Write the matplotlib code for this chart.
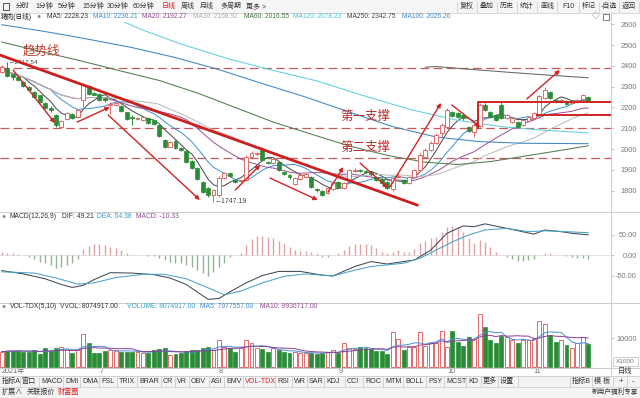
import matplotlib
matplotlib.use("Agg")
import matplotlib.pyplot as plt
import matplotlib.patches as mpatches
from matplotlib.lines import Line2D
import pandas as pd

plt.rcParams["font.family"] = ["Liberation Sans", "Noto Sans CJK SC", "DejaVu Sans"]

W, H = 640, 398

# daily candles, Jun .. Nov 2021
opens = [2371, 2390, 2362, 2346, 2322, 2298, 2275, 2258, 2222, 2196,
         2164, 2106, 2145, 2168, 2154, 2236, 2303, 2270, 2265, 2245,
         2214, 2212, 2206, 2178, 2152, 2145, 2140, 2150, 2138, 2115,
         2044, 2012, 2038, 2006, 1990, 1942, 1910, 1842, 1812, 1780,
         1780, 1861, 1885, 1852, 1846, 1851, 1962, 1975, 1996, 1938,
         1933, 1938, 1890, 1875, 1832, 1856, 1866, 1866, 1810, 1797,
         1790, 1808, 1842, 1815, 1851, 1895, 1898, 1894, 1890, 1866,
         1858, 1842, 1808, 1866, 1852, 1838, 1866, 1900, 1962, 1996,
         2030, 2078, 2106, 2178, 2174, 2164, 2106, 2082, 2110, 2212,
         2178, 2164, 2212, 2150, 2130, 2130, 2116, 2135, 2150, 2164,
         2246, 2275, 2236, 2228, 2230, 2220, 2228, 2240, 2250]
closes = [2395, 2352, 2345, 2330, 2303, 2284, 2250, 2226, 2198, 2188,
          2116, 2135, 2173, 2150, 2188, 2308, 2265, 2262, 2236, 2238,
          2218, 2222, 2183, 2145, 2150, 2150, 2154, 2125, 2120, 2063,
          2010, 2034, 2005, 1996, 1938, 1909, 1856, 1794, 1780, 1803,
          1861, 1885, 1870, 1842, 1851, 1962, 1980, 1980, 1948, 1933,
          1952, 1900, 1880, 1864, 1861, 1876, 1880, 1818, 1802, 1780,
          1812, 1837, 1818, 1837, 1900, 1900, 1895, 1890, 1878, 1852,
          1836, 1814, 1860, 1872, 1838, 1866, 1900, 1972, 1996, 2030,
          2068, 2116, 2188, 2159, 2154, 2150, 2087, 2116, 2212, 2188,
          2154, 2140, 2150, 2164, 2150, 2106, 2140, 2154, 2174, 2255,
          2284, 2246, 2230, 2238, 2218, 2232, 2234, 2258, 2230]
highs = [2402, 2417.54, 2368, 2350, 2328, 2304, 2280, 2262, 2226, 2206,
         2170, 2138, 2178, 2172, 2195, 2316, 2310, 2276, 2270, 2252,
         2225, 2228, 2210, 2180, 2164, 2156, 2158, 2155, 2142, 2120,
         2050, 2040, 2042, 2012, 1995, 1946, 1914, 1848, 1818, 1808,
         1870, 1892, 1892, 1858, 1858, 1972, 1990, 1986, 2008, 1945,
         1956, 1945, 1895, 1878, 1866, 1880, 1885, 1870, 1815, 1802,
         1818, 1842, 1848, 1842, 1905, 1908, 1905, 1900, 1895, 1872,
         1862, 1846, 1866, 1880, 1858, 1870, 1906, 1980, 2005, 2040,
         2075, 2125, 2196, 2184, 2180, 2174, 2110, 2125, 2222, 2222,
         2182, 2168, 2226, 2168, 2155, 2135, 2145, 2160, 2180, 2262,
         2300, 2280, 2242, 2242, 2234, 2238, 2240, 2266, 2256]
lows = [2366, 2345, 2332, 2325, 2298, 2278, 2246, 2220, 2192, 2180,
        2108, 2100, 2140, 2146, 2150, 2200, 2258, 2258, 2230, 2228,
        2168, 2205, 2178, 2140, 2116, 2138, 2136, 2120, 2116, 2058,
        2005, 2008, 2000, 1990, 1932, 1904, 1850, 1788, 1772, 1747.19,
        1770, 1856, 1865, 1836, 1840, 1846, 1955, 1968, 1942, 1928,
        1928, 1895, 1875, 1858, 1826, 1852, 1860, 1812, 1796, 1775,
        1785, 1804, 1814, 1810, 1846, 1890, 1888, 1884, 1872, 1846,
        1830, 1808, 1800, 1860, 1832, 1834, 1862, 1896, 1958, 1990,
        2025, 2060, 2100, 2154, 2150, 2140, 2080, 2058, 2105, 2184,
        2150, 2135, 2145, 2145, 2125, 2100, 2110, 2130, 2145, 2160,
        2240, 2240, 2224, 2222, 2212, 2215, 2222, 2236, 2226]

# volume, units of 1000
volumes = [5367, 5706, 5706, 5706, 5367, 5367, 5933, 4577, 6497, 5706,
           6497, 7062, 5933, 4802, 5933, 11357, 8418, 5028, 5028, 5706,
           5933, 5933, 5367, 5367, 5367, 5367, 4802, 5028, 5933, 6158,
           6497, 4238, 4577, 5028, 5706, 5933, 5933, 6497, 7062, 5933,
           9323, 7062, 6497, 5367, 6497, 9323, 8418, 6497, 6158, 5367,
           6497, 5933, 5367, 5028, 5367, 4802, 4802, 5028, 4577, 5028,
           5367, 5933, 5028, 8192, 6723, 6158, 7062, 6497, 6158, 5706,
           5706, 4577, 12147, 9549, 5933, 7062, 7062, 12147, 7289, 8418,
           8418, 12487, 7062, 12374, 8757, 7289, 10453, 9549, 18137, 13617,
           9323, 8192, 10679, 10227, 9323, 8192, 9323, 9323, 9549, 15764,
           14747, 11018, 8757, 9323, 7628, 6497, 8192, 10227, 8075]

macd_hist = [6.5, 5.7, 4, 2.4, 0.5, -5.7, -10.6, -16, -18.7, -24.4,
             -32.5, -28.5, -24.4, -20.3, -10.6, 13.8, 22, 26.8, 26.8, 24.4,
             20.3, 16.3, 12.2, 5.7, 0.8, -0.5, -0.8, -1.2, -2.4, -8.1,
             -12.2, -16.3, -20.3, -20.3, -24.4, -28.5, -36.6, -44.7, -51.2, -40.6,
             -28.5, -20.3, -5.7, 0.5, 5.7, 24.4, 38.2, 46.3, 46.3, 44.7,
             40.6, 35, 28.5, 20.3, 12.2, 10.6, 9.8, 8.1, 5.7, -4,
             -4, 0.5, 4, 12, 22, 27, 27, 26.5, 24.4, 16,
             8, 4, 8, 12, 8, 8, 14, 30, 35, 40.6,
             44.7, 57, 69, 71, 67.5, 57, 40.6, 30, 36.6, 32.5,
             20, 8, 0.5, -4, -10.6, -13.8, -13.8, -12, -10.6, 0.5,
             4, 4, 0.5, -0.5, -2.4, -5.7, -8, -8, -10.33]

dif_pts = [(0, -38), (4, -46), (8, -58), (11, -72), (13, -79), (15, -74), (17, -60),
           (20, -43), (24, -44), (28, -48), (31, -56), (34, -72), (36, -90), (38, -108),
           (40, -106), (42, -90), (45, -68), (48, -50), (51, -40), (55, -40), (59, -49),
           (61, -51), (65, -28), (68, -16), (71, -22), (74, -16), (76, -12), (79, 12),
           (82, 53), (85, 71), (87, 69), (89, 76), (93, 65), (98, 51), (100, 61),
           (103, 57), (105, 53), (108, 49.21)]
dea_pts = [(0, -41), (6, -44), (10, -56), (14, -71), (17, -68), (21, -55), (26, -47),
           (30, -47), (34, -58), (38, -80), (41, -97), (44, -88), (48, -68), (52, -52),
           (56, -46), (59, -49), (61, -51), (65, -37), (68, -28), (71, -24), (74, -20),
           (77, -8), (80, 12), (83, 32), (86, 49), (89, 61), (93, 65), (97, 57),
           (100, 59), (104, 57), (108, 54.38)]

# long moving averages
ma60_pts = [(0, 2515), (7, 2470), (14, 2428), (22, 2375), (29, 2330), (36, 2270),
            (43, 2200), (50, 2130), (57, 2072), (64, 2015), (71, 1970), (78, 1937),
            (84, 1926), (90, 1940), (96, 1965), (102, 1990), (108, 2016)]
ma100_pts = [(0, 2598), (8, 2565), (16, 2528), (24, 2488), (32, 2440), (40, 2382),
             (48, 2315), (56, 2250), (64, 2178), (72, 2108), (80, 2058), (88, 2036),
             (96, 2028), (108, 2026)]
ma120_pts = [(14, 2700), (20, 2640), (26, 2572), (33, 2505), (42, 2432), (50, 2378),
             (58, 2328), (66, 2262), (75, 2192), (84, 2138), (92, 2108), (100, 2090),
             (108, 2078)]
ma250_pts = [(78, 2394), (80, 2397), (86, 2384), (94, 2368), (101, 2355), (108, 2343)]

dashed_levels = [2388, 2100, 1959]
price_ticks = [1800, 1900, 2000, 2100, 2200, 2300, 2400, 2500, 2600]
month_idx = [0, 18, 40, 62, 82, 98]
month_labels = ["2021年", "7", "8", "9", "10", "11"]

# hand drawn marks: (index, price) endpoints
trend_line = [(-0.3, 2452), (76.5, 1731)]
arrows = [((2.1, 2380), (9.8, 2125)), ((13.9, 2130), (19.9, 2202)),
          ((19.6, 2164), (36.5, 1755)), ((43.0, 1803), (47.6, 1924)),
          ((49.4, 1861), (58.2, 1755)), ((60.1, 1794), (62.9, 1914)),
          ((66.0, 1933), (71.1, 1813)), ((71.5, 1818), (80.9, 2222)),
          ((82.9, 2212), (88.1, 2106)), ((96.7, 2241), (102.8, 2380))]
support_top = 2225
support_low = 2164
support_base = 2101

UP = "#e06a6a"
DOWN = "#2a8c36"
RED = "#d02424"


def frect(x0, y0, x1, y1):
    return [x0 / W, 1 - y1 / H, (x1 - x0) / W, (y1 - y0) / H]


def ftext(fig, x, y, s, size=5, color="#333333", ha="left", **kw):
    fig.text(x / W, 1 - y / H, s, fontsize=size, color=color, ha=ha, va="center", **kw)


def fline(fig, xs, ys, color="#cccccc", lw=0.7):
    fig.add_artist(Line2D([x / W for x in xs], [1 - y / H for y in ys], color=color, lw=lw))


def frectangle(fig, x0, y0, x1, y1, fc="none", ec="none", lw=0.5):
    fig.add_artist(mpatches.Rectangle((x0 / W, 1 - y1 / H), (x1 - x0) / W, (y1 - y0) / H,
                                      transform=fig.transFigure, facecolor=fc, edgecolor=ec, lw=lw))


def style_axis(ax, ticks, labels, ylim):
    ax.set_xlim(-0.313, 112.2)
    ax.set_ylim(*ylim)
    for sp in ax.spines.values():
        sp.set_visible(False)
    ax.set_xticks([])
    ax.yaxis.tick_right()
    ax.set_yticks(ticks)
    ax.set_yticklabels(labels)
    ax.tick_params(axis="y", length=2, width=0.6, color="#bbbbbb", labelsize=5.3,
                   labelcolor="#777777", pad=16.5)
    plt.setp(ax.get_yticklabels(), ha="right")


def main():
    fig = plt.figure(figsize=(W / 100, H / 100), dpi=100)
    fig.patch.set_facecolor("white")

    n = len(closes)
    idx = list(range(n))
    up = [c >= o for o, c in zip(opens, closes)]

    # ---------------- price panel ----------------
    ax = fig.add_axes(frect(0, 22, 611, 212))
    style_axis(ax, price_ticks, [str(t) for t in price_ticks], (1697.6, 2611))

    for lvl in dashed_levels:
        ax.axhline(lvl, color="#c85a5a", lw=0.9, dashes=(7, 3.5))

    cs = pd.Series(closes)
    ma_cols = [(5, "#444444"), (10, "#3d8fd1"), (20, "#9b4f96"), (30, "#b8b8b8")]
    for win, col in ma_cols:
        ax.plot(idx, cs.rolling(win, min_periods=1).mean(), color=col, lw=0.7)
    for pts, col in [(ma60_pts, "#4f7f4f"), (ma100_pts, "#3f86c6"),
                     (ma120_pts, "#62cfe0"), (ma250_pts, "#666666")]:
        xs, ys = zip(*pts)
        ax.plot(xs, ys, color=col, lw=0.75)

    for i in idx:
        o, c, hi, lo = opens[i], closes[i], highs[i], lows[i]
        top, bot = max(o, c), min(o, c)
        body = max(top - bot, 1.5)
        if up[i]:
            ax.vlines(i, top, hi, color=UP, lw=0.7, zorder=3)
            ax.vlines(i, lo, bot, color=UP, lw=0.7, zorder=3)
            ax.bar(i, body, bottom=bot, width=0.72, facecolor="white", edgecolor=UP,
                   lw=0.7, zorder=4)
        else:
            ax.vlines(i, lo, hi, color=DOWN, lw=0.7, zorder=3)
            ax.bar(i, body, bottom=bot, width=0.72, facecolor=DOWN, edgecolor=DOWN,
                   lw=0.5, zorder=4)

    (tx0, ty0), (tx1, ty1) = trend_line
    ax.plot([tx0, tx1], [ty0, ty1], color="#cc1f1f", lw=2.0, zorder=5)
    for (x0, y0), (x1, y1) in arrows:
        ax.annotate("", xy=(x1, y1), xytext=(x0, y0),
                    arrowprops=dict(arrowstyle="-|>", color=RED, lw=1.0,
                                    mutation_scale=6, shrinkA=0, shrinkB=0), zorder=6)
    ax.plot([87.7, 87.7, 112.2], [support_base, support_top, support_top],
            color=RED, lw=1.4, zorder=5)
    ax.plot([98.6, 112.2], [support_low, support_low], color=RED, lw=1.4, zorder=5)

    ax.text(3.9, 2468, "趋势线", fontsize=9, color="#c0392b", va="center")
    ax.text(62.3, 2154, "第一支撑", fontsize=9, color="#b83030", va="center")
    ax.text(62.3, 2005, "第二支撑", fontsize=9, color="#b83030", va="center")
    ax.text(1.3, 2417.54, "←2417.54", fontsize=4.6, color="#444444", va="center")
    ax.text(39.2, 1747.19, "←1747.19", fontsize=5, color="#444444", va="center")

    # ---------------- MACD panel ----------------
    axm = fig.add_axes(frect(0, 212, 611, 303))
    style_axis(axm, [-50, 0, 50], ["-50.00", "0.00", "50.00"], (-117, 104.9))
    axm.axhline(0, color="#dddddd", lw=0.6)
    hcols = ["#dea3a3" if v >= 0 else "#93b493" for v in macd_hist]
    axm.vlines(idx, 0, macd_hist, colors=hcols, lw=1.0)
    xs, ys = zip(*dif_pts)
    axm.plot(xs, ys, color="#3f4a55", lw=0.75)
    xs, ys = zip(*dea_pts)
    axm.plot(xs, ys, color="#4aa3c8", lw=0.75)

    # ---------------- volume panel ----------------
    axv = fig.add_axes(frect(0, 303, 611, 368))
    style_axis(axv, [10000], ["10000"], (-170, 21866))
    for i in idx:
        if up[i]:
            axv.bar(i, volumes[i], width=0.72, facecolor="white", edgecolor=UP, lw=0.7)
        else:
            axv.bar(i, volumes[i], width=0.72, facecolor=DOWN, edgecolor=DOWN, lw=0.5)
    vs = pd.Series(volumes)
    axv.plot(idx, vs.rolling(5, min_periods=1).mean(), color="#4a8fd0", lw=0.7)
    axv.plot(idx, vs.rolling(10, min_periods=1).mean(), color="#8a3f95", lw=0.7)
    for mi, ml in zip(month_idx, month_labels):
        axv.text(mi, -0.05, ml, transform=axv.get_xaxis_transform(), fontsize=5.2,
                 color="#666666", va="center", ha="left")

    # ---------------- frame lines ----------------
    for y in (212, 303, 368):
        fline(fig, [0, 640], [y, y])
    fline(fig, [611, 611], [13, 376])
    frectangle(fig, 613, 357, 638, 366, ec="#bbbbbb")
    ftext(fig, 625.5, 361.5, "X1000", 4.6, "#777777", ha="center")
    ftext(fig, 625, 371, "日线", 5.2, "#333333", ha="center")

    # ---------------- top toolbar ----------------
    frectangle(fig, 0, 0, 640, 12.5, fc="#f5f5f5")
    fline(fig, [0, 640], [12.5, 12.5], "#d8d8d8")
    frectangle(fig, 2.5, 3, 9, 9.5, ec="#555555", lw=0.7)
    tools = [("分时", 16), ("1分钟", 35), ("5分钟", 58), ("15分钟", 82), ("30分钟", 107),
             ("60分钟", 133), ("日线", 162), ("周线", 181), ("月线", 200), ("多周期", 220),
             ("更多 >", 246)]
    for s, x in tools:
        ftext(fig, x, 6.5, s, 5.0, "#e02020" if s == "日线" else "#333333")
    buttons = [("复权", 467), ("叠加", 487), ("历史", 507), ("统计", 527), ("画线", 547),
               ("F10", 568), ("标记", 589), ("-自选", 609), ("返回", 629)]
    for s, x in buttons:
        ftext(fig, x, 6.5, s, 5.0, "#333333", ha="center")
    for x in (457, 477, 497, 517, 537, 557, 579, 599, 619, 639):
        fline(fig, [x, x], [1.5, 11.5], "#cfcfcf", 0.6)

    # ---------------- panel headers ----------------
    hdr = [("猪肉(日线)", 1, "#222222"), ("MA5: 2228.23", 47, "#333333"),
           ("MA10: 2236.21", 93, "#3d8fd1"), ("MA20: 2192.27", 142, "#8f4a8f"),
           ("MA30: 2168.92", 193, "#aaaaaa"), ("MA60: 2016.55", 244, "#3f6f3f"),
           ("MA120: 2078.23", 293, "#4cc4d6"), ("MA250: 2342.75", 347, "#444444"),
           ("MA100: 2026.26", 402, "#3f86c6")]
    for s, x, col in hdr:
        ftext(fig, x, 16.8, s, 4.8, col)
    ftext(fig, 39, 16.8, "●", 5, "#888888", ha="center")
    ftext(fig, 596, 16.8, "◇", 5.5, "#666666", ha="center")
    frectangle(fig, 603, 13.8, 609, 19.8, ec="#666666", lw=0.6)

    ftext(fig, 3.5, 216.8, "●", 5, "#888888", ha="center")
    mh = [("MACD(12,26,9)", 10, "#333333"), ("DIF: 49.21", 62, "#333333"),
          ("DEA: 54.38", 97, "#3a9cc6"), ("MACD: -10.33", 136, "#8f4a8f")]
    for s, x, col in mh:
        ftext(fig, x, 216.8, s, 4.9, col)

    ftext(fig, 3.5, 306.8, "●", 5, "#888888", ha="center")
    vh = [("VOL-TDX(5,10)", 10, "#333333"), ("VVOL: 8074917.00", 60, "#333333"),
          ("VOLUME: 8074917.00", 127, "#3aa0c8"), ("MA5: 7977557.00", 200, "#3f86c6"),
          ("MA10: 9936717.00", 260, "#8f4a8f")]
    for s, x, col in vh:
        ftext(fig, x, 306.8, s, 4.9, col)

    # ---------------- bottom tabs ----------------
    frectangle(fig, 0, 376, 640, 398, fc="#f3f3f3")
    fline(fig, [0, 640], [376, 376], "#d0d0d0")
    fline(fig, [0, 640], [387, 387], "#d8d8d8")
    tabs = [("指标A", 2), ("窗口", 22), ("MACD", 41), ("DMI", 65), ("DMA", 82), ("FSL", 101),
            ("TRIX", 119), ("BRAR", 139), ("CR", 163), ("VR", 177), ("OBV", 191),
            ("ASI", 211), ("EMV", 226), ("VOL-TDX", 245), ("RSI", 277), ("WR", 294),
            ("SAR", 309), ("KDJ", 326), ("CCI", 347), ("ROC", 365), ("MTM", 385),
            ("BOLL", 405), ("PSY", 428), ("MCST", 446), ("KD", 468), ("更多", 483),
            ("设置", 500)]
    for k, (s, x) in enumerate(tabs):
        ftext(fig, x, 381.5, s, 5.1, "#e02020" if s == "VOL-TDX" else "#333333")
        if k > 0:
            fline(fig, [x - 2, x - 2], [377, 386], "#cccccc", 0.6)
    fline(fig, [518, 518], [377, 386], "#cccccc", 0.6)
    ftext(fig, 572, 381.5, "指标B", 5.1)
    ftext(fig, 594, 381.5, "模 板", 5.1)
    ftext(fig, 621, 381.5, "+", 5.5, ha="center")
    ftext(fig, 633, 381.5, "-", 5.5, ha="center")
    for x in (570, 592, 613, 627):
        fline(fig, [x, x], [377, 386], "#cccccc", 0.6)
    ftext(fig, 2, 392.5, "扩展∧", 5.1)
    ftext(fig, 27, 392.5, "关联报价", 5.1)
    ftext(fig, 58, 392.5, "财富圈", 5.1, "#e02020")
    ftext(fig, 638, 392.5, "新用户福利专享", 4.8, ha="right")

    fig.savefig("out.png", dpi=100)
    plt.close(fig)


if __name__ == "__main__":
    main()
